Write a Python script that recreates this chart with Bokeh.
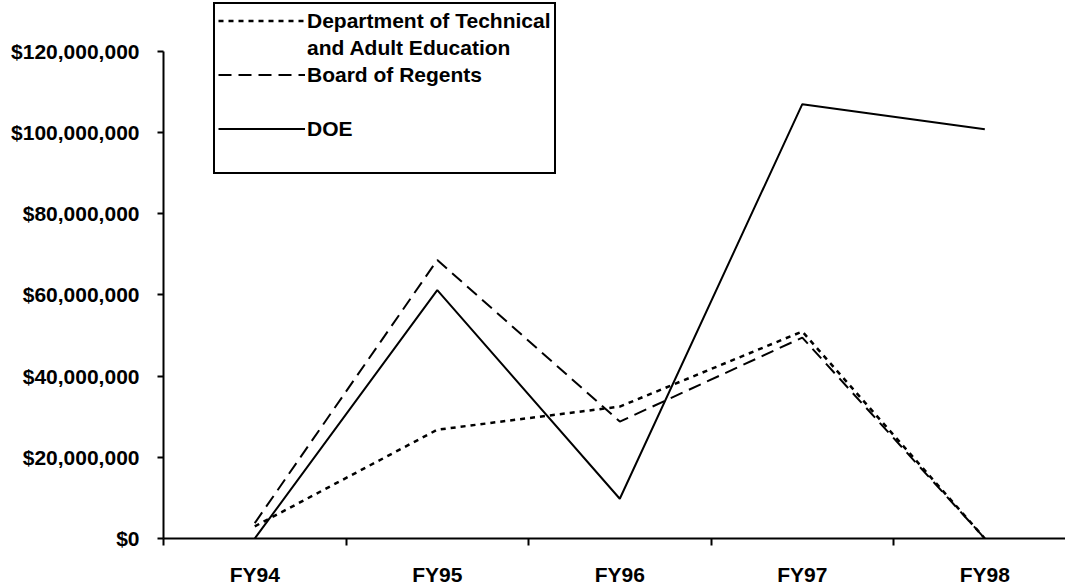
from bokeh.plotting import figure
from bokeh.models import Range1d, FixedTicker, NumeralTickFormatter, Legend, LegendItem
from bokeh.embed import file_html
from bokeh.resources import INLINE

# ---- data ----
years = ["FY94", "FY95", "FY96", "FY97", "FY98"]
dtae = [3.0e6, 26.8e6, 32.5e6, 51.0e6, 0]
regents = [3.8e6, 68.6e6, 28.8e6, 49.5e6, 0]
doe = [0, 61.2e6, 9.8e6, 107.0e6, 100.8e6]
y_ticks = [0, 20e6, 40e6, 60e6, 80e6, 100e6, 120e6]
legend_labels = ["Department of Technical", "and Adult Education", "Board of Regents", "", "DOE", ""]

FONT = "Liberation Sans"
FS = "21px"
xpos = [i + 0.5 for i in range(len(years))]

p = figure(width=1065, height=588, output_backend="svg", toolbar_location=None,
           x_range=Range1d(0, 4.942), y_range=Range1d(0, 132.54e6),
           min_border_left=163, min_border_right=0, min_border_top=0, min_border_bottom=49)
p.outline_line_color = None
p.xgrid.grid_line_color = None
p.ygrid.grid_line_color = None
p.background_fill_color = "white"

r_dtae = p.line(xpos, dtae, line_color="black", line_width=2.5, line_dash="5 5")
r_reg = p.line(xpos, regents, line_color="black", line_width=2, line_dash="13 7")
r_doe = p.line(xpos, doe, line_color="black", line_width=2)
r_blank = p.line([], [], line_alpha=0)

# x axis
xa = p.xaxis[0]
xa.ticker = FixedTicker(ticks=xpos, minor_ticks=list(range(len(years) + 1)))
xa.major_label_overrides = {x: y for x, y in zip(xpos, years)}
xa.major_tick_line_color = None
xa.major_tick_out = 0
xa.major_tick_in = 0
xa.minor_tick_line_color = "black"
xa.minor_tick_line_width = 2
xa.minor_tick_out = 7
xa.minor_tick_in = 0
xa.axis_line_width = 2
xa.axis_line_color = "black"
xa.major_label_standoff = 17
xa.major_label_text_font = FONT
xa.major_label_text_font_style = "bold"
xa.major_label_text_font_size = FS
xa.major_label_text_color = "black"

# y axis
ya = p.yaxis[0]
ya.bounds = (0, 120e6)
ya.ticker = FixedTicker(ticks=y_ticks, minor_ticks=[])
ya.formatter = NumeralTickFormatter(format="$0,0")
ya.major_tick_out = 6
ya.major_tick_in = 0
ya.major_tick_line_width = 2
ya.axis_line_width = 2
ya.axis_line_color = "black"
ya.major_label_standoff = 18
ya.major_label_text_font = FONT
ya.major_label_text_font_style = "bold"
ya.major_label_text_font_size = FS
ya.major_label_text_color = "black"

renders = [r_dtae, r_blank, r_reg, r_blank, r_doe, r_blank]
items = [LegendItem(label=lab, renderers=[r]) for lab, r in zip(legend_labels, renders)]
legend = Legend(items=items, location=(50, 364), orientation="vertical",
                glyph_width=87, glyph_height=27, label_height=27, label_standoff=2,
                spacing=0, padding=3, margin=0,
                label_text_font=FONT, label_text_font_style="bold",
                label_text_font_size=FS, label_text_color="black",
                border_line_color="black", border_line_width=2.5, border_line_alpha=1.0,
                background_fill_color="white", background_fill_alpha=1.0)
p.add_layout(legend)

open("out.html", "w").write(file_html(p, INLINE))
